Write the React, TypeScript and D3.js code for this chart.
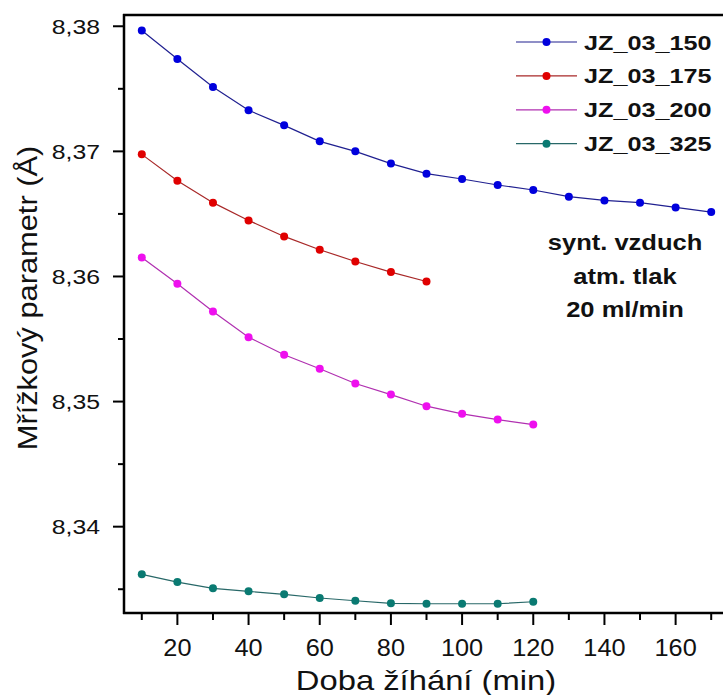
import React from "react";
import * as d3 from "d3";

const times150 = [10, 20, 30, 40, 50, 60, 70, 80, 90, 100, 110, 120, 130, 140, 150, 160, 170];
const values150 = [8.37966, 8.37739, 8.37515, 8.37328, 8.37208, 8.3708, 8.37, 8.36902, 8.36822, 8.36779, 8.36731, 8.36691, 8.36638, 8.36608, 8.3659, 8.36552, 8.36515];

const times175 = [10, 20, 30, 40, 50, 60, 70, 80, 90];
const values175 = [8.36976, 8.36766, 8.3659, 8.36448, 8.3632, 8.36214, 8.3612, 8.36035, 8.3596];

const times200 = [10, 20, 30, 40, 50, 60, 70, 80, 90, 100, 110, 120];
const values200 = [8.36152, 8.35942, 8.3572, 8.35515, 8.35374, 8.35262, 8.35144, 8.35056, 8.34963, 8.34902, 8.34856, 8.34816];

const times325 = [10, 20, 30, 40, 50, 60, 70, 80, 90, 100, 110, 120];
const values325 = [8.33619, 8.33557, 8.33507, 8.33483, 8.33459, 8.3343, 8.33408, 8.33387, 8.33384, 8.33384, 8.33384, 8.334];

const seriesNames = ["JZ_03_150", "JZ_03_175", "JZ_03_200", "JZ_03_325"];
const markerColors = ["#0000dd", "#e00000", "#ee10ee", "#0a7a72"];
const lineColors = ["#202090", "#a82828", "#b030b0", "#286868"];

const xMajorTicks = [20, 40, 60, 80, 100, 120, 140, 160];
const xMinorTicks = [10, 30, 50, 70, 90, 110, 130, 150, 170];
const yMajorTicks = [8.34, 8.35, 8.36, 8.37, 8.38];
const yMinorTicks = [8.335, 8.345, 8.355, 8.365, 8.375];

const annotationLines = ["synt. vzduch", "atm. tlak", "20 ml/min"];
const xTitle = "Doba žíhání (min)";
const yTitle = "Mřížkový parametr (Å)";

const W = 723;
const H = 695;
const left = 124;
const right = 729;
const top = 15;
const bottom = 613;
const FONT = "'Liberation Sans', Arial, Helvetica, sans-serif";

export default function App() {
  const x = d3.scaleLinear().domain([5, 175]).range([left, right]);
  const y = d3.scaleLinear().domain([8.3331, 8.3809]).range([bottom, top]);

  const series = [
    { t: times150, v: values150 },
    { t: times175, v: values175 },
    { t: times200, v: values200 },
    { t: times325, v: values325 },
  ];

  const line = d3
    .line<[number, number]>()
    .x((d) => x(d[0]))
    .y((d) => y(d[1]));

  const fmtY = (v: number) => d3.format(".2f")(v).replace(".", ",");

  const legendX0 = 516;
  const legendX1 = 577;
  const legendY0 = 42;
  const legendStep = 33.9;

  return (
    <svg
      width={W}
      height={H}
      style={{ position: "absolute", left: 0, top: 0, background: "#fff" }}
      fontFamily={FONT}
    >
      <rect x={0} y={0} width={W} height={H} fill="#fff" />

      {/* series */}
      {series.map((s, i) => {
        const pts: [number, number][] = s.t.map((t, j) => [t, s.v[j]]);
        return (
          <g key={i}>
            <path d={line(pts) || ""} fill="none" stroke={lineColors[i]} strokeWidth={1.2} />
            {pts.map((p, j) => (
              <circle key={j} cx={x(p[0])} cy={y(p[1])} r={4} fill={markerColors[i]} />
            ))}
          </g>
        );
      })}

      {/* frame */}
      <line x1={left} x2={left} y1={top - 1} y2={bottom + 1} stroke="#000" strokeWidth={2.5} />
      <line x1={left - 1} x2={right} y1={top} y2={top} stroke="#000" strokeWidth={2.5} />
      <line x1={left - 1} x2={right} y1={bottom} y2={bottom} stroke="#000" strokeWidth={2.5} />

      {/* y ticks */}
      {yMajorTicks.map((v) => (
        <g key={"ym" + v}>
          <line x1={left - 11} x2={left} y1={y(v)} y2={y(v)} stroke="#000" strokeWidth={2} />
          <g transform={`translate(${100},${y(v)}) scale(1.18,1)`}>
            <text textAnchor="end" dy="0.36em" fontSize={21} fill="#111">
              {fmtY(v)}
            </text>
          </g>
        </g>
      ))}
      {yMinorTicks.map((v) => (
        <line key={"yn" + v} x1={left - 6} x2={left} y1={y(v)} y2={y(v)} stroke="#000" strokeWidth={2} />
      ))}

      {/* x ticks */}
      {xMajorTicks.map((v) => (
        <g key={"xm" + v}>
          <line x1={x(v)} x2={x(v)} y1={bottom} y2={bottom + 12} stroke="#000" strokeWidth={2} />
          <g transform={`translate(${x(v)},${656}) scale(1.1,1)`}>
            <text textAnchor="middle" fontSize={23} fill="#111">
              {v}
            </text>
          </g>
        </g>
      ))}
      {xMinorTicks.map((v) => (
        <line key={"xn" + v} x1={x(v)} x2={x(v)} y1={bottom} y2={bottom + 7} stroke="#000" strokeWidth={2} />
      ))}

      {/* axis titles */}
      <g transform={`translate(426,690) scale(1.17,1)`}>
        <text textAnchor="middle" fontSize={28} fill="#111">
          {xTitle}
        </text>
      </g>
      <g transform={`translate(37,298) rotate(-90) scale(1.1,1)`}>
        <text textAnchor="middle" fontSize={28} fill="#111">
          {yTitle}
        </text>
      </g>

      {/* legend */}
      {seriesNames.map((name, i) => {
        const cy = legendY0 + i * legendStep;
        return (
          <g key={name}>
            <line x1={legendX0} x2={legendX1} y1={cy} y2={cy} stroke={lineColors[i]} strokeWidth={1.2} />
            <circle cx={(legendX0 + legendX1) / 2} cy={cy} r={4} fill={markerColors[i]} />
            <g transform={`translate(584,${cy + 7.5}) scale(1.2,1)`}>
              <text fontSize={21} fontWeight="bold" fill="#111">
                {name}
              </text>
            </g>
          </g>
        );
      })}

      {/* annotation */}
      {annotationLines.map((t, i) => (
        <g key={t} transform={`translate(625,${250 + i * 33.5}) scale(1.16,1)`}>
          <text textAnchor="middle" fontSize={22} fontWeight="bold" fill="#111">
            {t}
          </text>
        </g>
      ))}
    </svg>
  );
}
